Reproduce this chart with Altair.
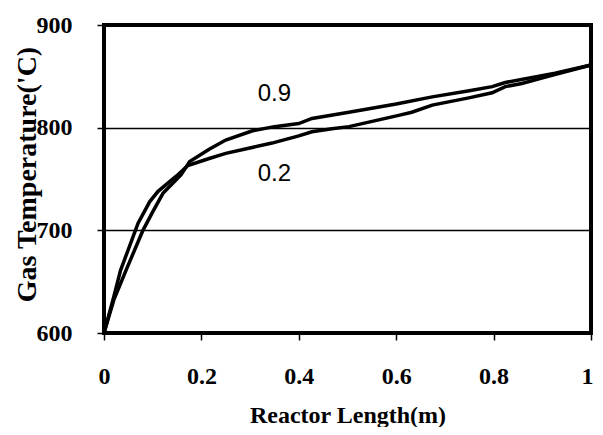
import altair as alt
import pandas as pd

# Series data
x_09 = [0, 0.02, 0.046, 0.08, 0.10, 0.121, 0.158, 0.176, 0.216, 0.25, 0.305, 0.35,
        0.40, 0.427, 0.503, 0.60, 0.674, 0.75, 0.797, 0.824, 0.926, 1.0]
t_09 = [600, 632, 662, 700, 718, 736, 754, 767, 779, 788, 797, 801,
        804, 809, 815, 823, 830, 836, 840, 844, 853, 861]

x_02 = [0, 0.02, 0.034, 0.07, 0.094, 0.111, 0.149, 0.172, 0.216, 0.25, 0.345, 0.40,
        0.427, 0.468, 0.503, 0.605, 0.632, 0.674, 0.749, 0.797, 0.824, 0.858, 0.912, 1.0]
t_02 = [600, 635, 661, 707, 728, 738, 753, 763, 770, 775, 785, 792,
        796, 799, 801, 812, 815, 822, 829, 834, 840, 843, 850, 861]

series_labels = ["0.9", "0.2"]
label_x = [0.35, 0.35]
label_t = [833, 755]

x_ticks = [0, 0.2, 0.4, 0.6, 0.8, 1.0]
y_ticks = [600, 700, 800, 900]

W, H = 487, 308

df = pd.concat([
    pd.DataFrame({"x": x_09, "t": t_09, "series": "0.9"}),
    pd.DataFrame({"x": x_02, "t": t_02, "series": "0.2"}),
])
labels = pd.DataFrame({"x": label_x, "t": label_t, "text": series_labels})

serif = "Liberation Serif"

x_enc = alt.X(
    "x:Q",
    scale=alt.Scale(domain=[0, 1], nice=False),
    axis=alt.Axis(
        values=x_ticks, format="~g", title="Reactor Length(m)",
        grid=False, domain=False, tickSize=7, tickColor="black", tickWidth=1.5,
        labelFont=serif, labelFontSize=24, labelFontWeight="bold", labelColor="black",
        labelPadding=24, labelFlush=False,
        labelOffset={"condition": {"test": "datum.value == 1", "value": -4}, "value": 0},
        titleFont=serif, titleFontSize=24, titleFontWeight="bold", titleColor="black",
        titleBaseline="alphabetic", titleY=89,
    ),
)
y_enc = alt.Y(
    "t:Q",
    scale=alt.Scale(domain=[600, 900], nice=False, zero=False),
    axis=alt.Axis(
        values=y_ticks, title="Gas Temperature('C)",
        grid=True, gridColor="black", gridWidth=1.5, gridOpacity=1,
        domain=False, tickSize=7, tickColor="black", tickWidth=1.5,
        labelFont=serif, labelFontSize=24, labelFontWeight="bold", labelColor="black",
        labelPadding=25, labelFlush=False,
        titleFont=serif, titleFontSize=28, titleFontWeight="bold", titleColor="black",
        titleAngle=270, titleBaseline="middle", titleAlign="center",
        titleX=-77, titleY=149,
    ),
)

lines = alt.Chart(df).mark_line(color="black", strokeWidth=3.5).encode(
    x=x_enc, y=y_enc, detail="series:N"
)

text = alt.Chart(labels).mark_text(
    font="Liberation Sans", fontSize=24, color="black", align="center", baseline="middle"
).encode(x="x:Q", y="t:Q", text="text:N")

frame = alt.Chart(alt.Data(values=[{}])).mark_rect(
    filled=False, stroke="black", strokeWidth=4
).encode(x=alt.value(0), x2=alt.value(W), y=alt.value(0), y2=alt.value(H))

chart = (
    alt.layer(lines, text, frame)
    .properties(
        width=W, height=H,
        autosize=alt.AutoSizeParams(type="none"),
        padding={"left": 96, "top": 17, "right": 4, "bottom": 94},
    )
    .configure_view(stroke=None)
    .configure(background="white")
)

chart.save("out.html", embed_options={"renderer": "svg", "actions": False})
